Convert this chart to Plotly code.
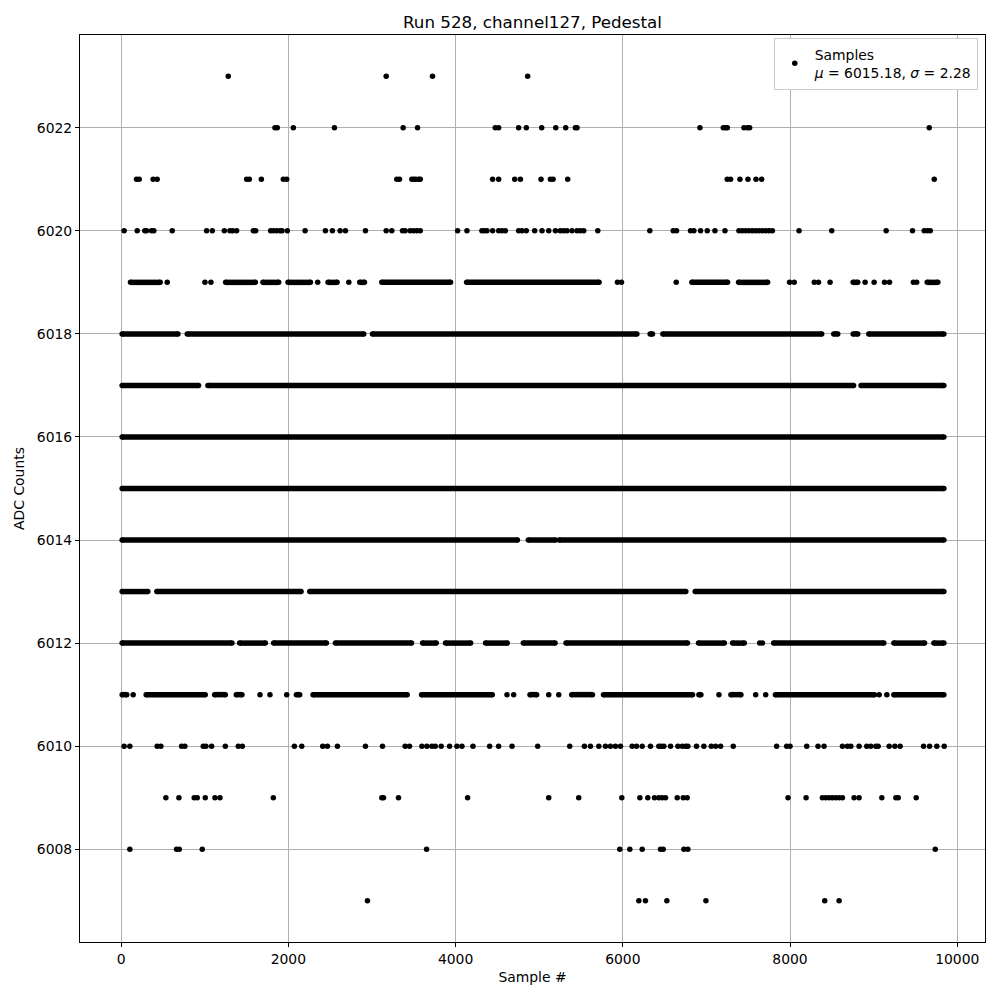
import plotly.graph_objects as go

# ADC levels (y values) and, per level, sample numbers where dots appear.
# A plain number is a single dot; a [start, end] pair is a densely filled run of samples.
levels = [6023, 6022, 6021, 6020, 6019, 6018, 6017, 6016, 6015, 6014, 6013, 6012, 6011, 6010, 6009, 6008, 6007]

runs_6023 = [1281, 3170, 3724, 4862]
runs_6022 = [1840, 1868, 2060, 2551, 3373, 3545, 4475, 4515, 4754, 4846, 5030, 5198, 5317, 5433, 5453,
             6922, 7202, 7230, 7250, 7449, 7490, 7517, 9665]
runs_6021 = [184, 216, 383, 431, 1501, 1533, 1677, 1940, 1980, 3297, 3329, 3477, 3500, 3525, 3560, 3577,
             4443, 4515, 4707, 4775, 5022, 5134, 5166, 5341, 7249, 7289, 7401, 7497, 7593, 7661, 9725]
runs_6020 = [36, 192, 283, 303, 363, 391, 611, 1022, 1090, 1234, 1301, 1333, 1381, 1581, 1609, 1788, 1820,
             1860, 1900, 1924, 1988, 2200, 2443, 2527, 2619, 2683, 2922, 3170, 3237, 3365, 3397, 3457, 3497,
             3537, 3577, 4024, 4136, 4315, 4343, 4375, 4443, 4515, 4555, 4595, 4754, 4794, 4846, 4946, 5034,
             5114, 5194, 5253, 5293, 5333, 5393, 5453, 5493, 5533, 5701, 6323, 6603, 6643, 6810, 6850, 6930,
             7010, 7102, 7222, 7389, 7429, 7469, 7509, 7549, 7589, 7629, 7669, 7709, 7749, 7789, 8108, 8499,
             9150, 9465, 9605, 9645, 9677]
runs_6019 = [[112, 467], 551, 1002, 1074, [1250, 1605], [1696, 1884], [1996, 2264], 2351, [2475, 2583], 2723,
             [2854, 2910], [3118, 3940], [4132, 5716], 5936, 5984, 6639, [6826, 7253], [7385, 7732], 7995,
             8050, 8290, 8340, 8479, [8755, 8810], 8898, 9006, 9130, 9190, 9475, 9515, [9641, 9768]]
runs_6018 = [[12, 679], [791, 2902], [3006, 6168], [6327, 6355], [6479, 8379], [8523, 8571], [8755, 8810],
             [8942, 9840]]
runs_6017 = [[12, 926], [1038, 8760], [8850, 9840]]
runs_6016 = [[12, 9840]]
runs_6015 = [[12, 9840]]
runs_6014 = [[12, 4740], [4870, 5195], [5240, 9840]]
runs_6013 = [[12, 319], [427, 2152], [2256, 6754], [6866, 9840]]
runs_6012 = [[12, 1325], [1417, 1725], [1824, 2455], [2563, 3473], [3605, 3769], [3880, 4180], [4359, 4619],
             [4810, 5190], [5321, 6774], [6906, 7214], [7313, 7453], 7637, 7670, [7804, 9122], [9242, 9609],
             [9721, 9840]]
runs_6011 = [[12, 68], 144, [299, 1006], [1118, 1246], [1377, 1445], 1661, 1780, 1980, [2096, 2136],
             [2295, 3421], [3593, 4439], 4615, 4695, [4890, 4970], 5114, 5234, [5389, 5637], [5769, 6834],
             [6910, 6934], 7150, [7293, 7413], 7589, 7709, [7825, 9010], 9066, 9158, [9242, 9840]]
runs_6010 = [36, 104, 431, 475, 723, 762, 982, 1014, 1082, 1246, 1401, 1449, 2072, 2160, 2411, 2467, 2587,
             2922, 3126, 3397, 3449, 3597, 3657, 3717, 3757, 3828, 3928, 4016, 4076, 4208, 4407, 4515, 4675,
             4982, 5365, 5541, 5613, 5713, 5792, 5852, 5912, 5972, 6112, 6164, 6232, 6331, 6431, 6459, 6491,
             6571, 6659, 6711, 6751, 6778, 6882, 6970, 7058, 7110, 7170, 7321, 7840, 7960, 8000, 8200, 8335,
             8407, 8627, 8687, 8727, 8826, 8918, 8966, 9026, 9054, 9186, 9254, 9317, 9597, 9669, 9756, 9844]
runs_6009 = [535, 691, 874, 910, 1006, 1122, 1182, 1820, 3118, 3138, 3317, 4144, 5114, 5473, 5988, 6204,
             6299, 6379, 6431, 6471, 6511, 6651, 6723, 6770, 7976, 8192, 8387, 8427, 8467, 8507, 8547, 8587,
             8627, 8766, 8826, 9098, 9266, 9294, 9509]
runs_6008 = [104, 663, 695, 970, 3653, 5964, 6084, 6232, 6451, 6483, 6731, 6778, 9737]
runs_6007 = [2946, 6192, 6271, 6527, 6994, 8415, 8587]

level_runs = [runs_6023, runs_6022, runs_6021, runs_6020, runs_6019, runs_6018, runs_6017, runs_6016,
              runs_6015, runs_6014, runs_6013, runs_6012, runs_6011, runs_6010, runs_6009, runs_6008, runs_6007]

x_ticks = [0, 2000, 4000, 6000, 8000, 10000]
y_ticks = [6008, 6010, 6012, 6014, 6016, 6018, 6020, 6022]

title_text = "Run 528, channel127, Pedestal"
legend_text = "Samples<br><i>μ</i> = 6015.18, <i>σ</i> = 2.28"

FONT = "DejaVu Sans"
DOT = 5.5

line_x, line_y, dot_x, dot_y = [], [], [], []
for lvl, runs in zip(levels, level_runs):
    for r in runs:
        if isinstance(r, list):
            line_x += [r[0], r[1], None]
            line_y += [lvl, lvl, None]
            dot_x += [r[0], r[1]]
            dot_y += [lvl, lvl]
        else:
            dot_x.append(r)
            dot_y.append(lvl)

fig = go.Figure()
fig.add_trace(go.Scatter(x=line_x, y=line_y, mode="lines", line=dict(color="black", width=DOT),
                         showlegend=False, hoverinfo="skip"))
fig.add_trace(go.Scatter(x=dot_x, y=dot_y, mode="markers", name=legend_text,
                         marker=dict(color="black", size=DOT, line=dict(width=0))))

axis_common = dict(showline=True, linecolor="black", linewidth=1, mirror=True,
                   ticks="outside", ticklen=4, tickcolor="black", tickwidth=1,
                   showgrid=True, gridcolor="#b0b0b0", gridwidth=0.8, zeroline=False,
                   tickfont=dict(family=FONT, size=13.9, color="black"))

fig.update_layout(
    width=1000, height=1000,
    margin=dict(l=72, r=23, t=27, b=66),
    plot_bgcolor="white", paper_bgcolor="white",
    title=dict(text=title_text, x=0.5, xref="paper", xanchor="center", y=0.986, yanchor="middle",
               font=dict(family=FONT, size=16.7, color="black")),
    xaxis=dict(range=[-492, 10332], tickvals=x_ticks, ticktext=[str(v) for v in x_ticks],
               title=dict(text="Sample #", font=dict(family=FONT, size=13.9, color="black"), standoff=6),
               **axis_common),
    yaxis=dict(range=[6006.2, 6023.8], tickvals=y_ticks, ticktext=[str(v) for v in y_ticks],
               title=dict(text="ADC Counts", font=dict(family=FONT, size=13.9, color="black"), standoff=8),
               **axis_common),
    legend=dict(x=0.992, y=0.997, xanchor="right", yanchor="top", bgcolor="white",
                bordercolor="#cccccc", borderwidth=1,
                font=dict(family=FONT, size=13.9, color="black")),
    showlegend=True,
)

fig.write_html("out.html")
